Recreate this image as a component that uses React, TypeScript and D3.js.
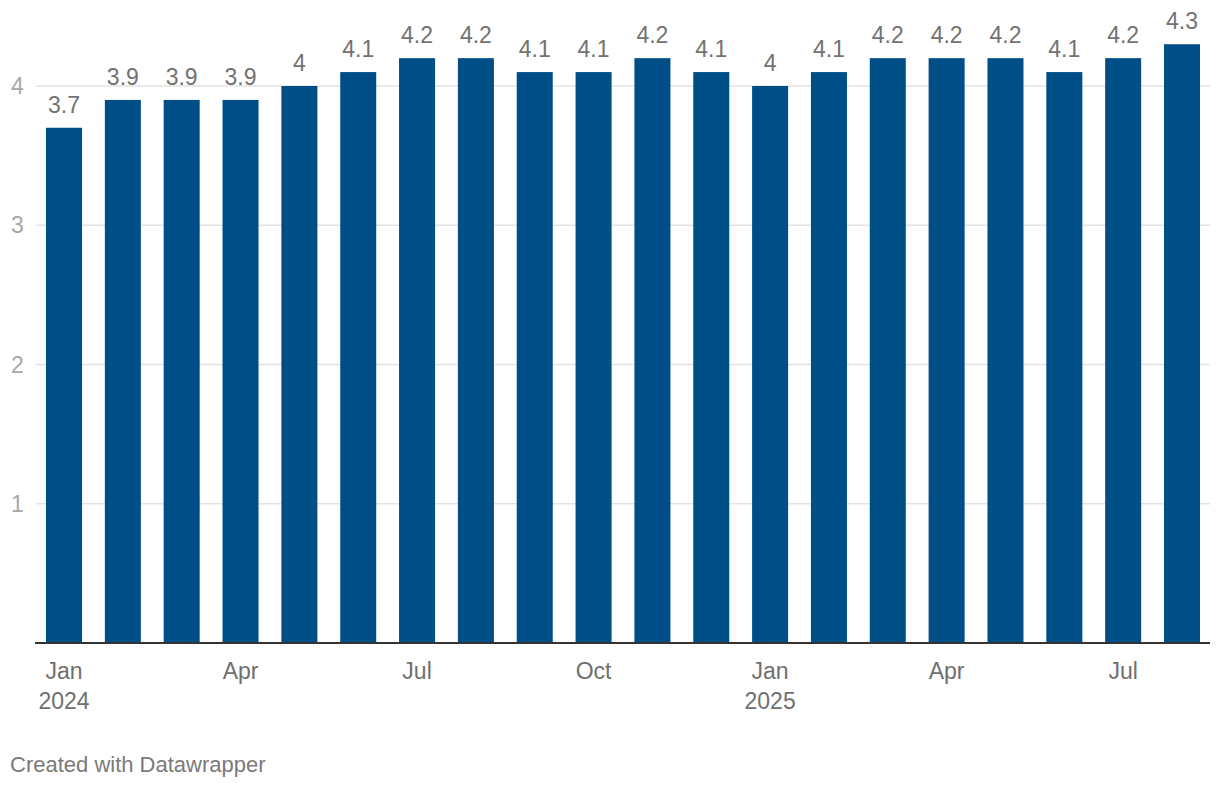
import React from "react";
import * as d3 from "d3";

const months = [
  "2024-01", "2024-02", "2024-03", "2024-04", "2024-05", "2024-06",
  "2024-07", "2024-08", "2024-09", "2024-10", "2024-11", "2024-12",
  "2025-01", "2025-02", "2025-03", "2025-04", "2025-05", "2025-06",
  "2025-07", "2025-08",
];
const values = [3.7, 3.9, 3.9, 3.9, 4, 4.1, 4.2, 4.2, 4.1, 4.1, 4.2, 4.1, 4, 4.1, 4.2, 4.2, 4.2, 4.1, 4.2, 4.3];
const yTicks = [1, 2, 3, 4];
const xTickLabels: { month: string; lines: string[] }[] = [
  { month: "2024-01", lines: ["Jan", "2024"] },
  { month: "2024-04", lines: ["Apr"] },
  { month: "2024-07", lines: ["Jul"] },
  { month: "2024-10", lines: ["Oct"] },
  { month: "2025-01", lines: ["Jan", "2025"] },
  { month: "2025-04", lines: ["Apr"] },
  { month: "2025-07", lines: ["Jul"] },
];
const footer = "Created with Datawrapper";

const W = 1220;
const H = 788;
const FONT = "'Liberation Sans', Arial, Helvetica, sans-serif";

export default function App() {
  const x = d3.scaleBand<string>().domain(months).range([46, 1200]).paddingInner(0.388).paddingOuter(0);
  const y = d3.scaleLinear().domain([0, 4]).range([643, 86]);
  const bw = x.bandwidth();
  const fmt = (v: number) => d3.format("~g")(v);

  return (
    <svg
      width={W}
      height={H}
      style={{ position: "absolute", left: 0, top: 0, background: "#fff" }}
      fontFamily={FONT}
    >
      {yTicks.map((t) => (
        <g key={t}>
          <line x1={36} x2={1210} y1={y(t)} y2={y(t)} stroke="#e3e3e3" strokeWidth={1.5} />
          <text x={11} y={y(t) + 8} fontSize={23} fill="#a8a8a8">
            {t}
          </text>
        </g>
      ))}
      {months.map((m, i) => (
        <g key={m}>
          <rect x={x(m)!} y={y(values[i])} width={bw} height={y(0) - y(values[i])} fill="#004e88" />
          <text
            x={x(m)! + bw / 2}
            y={y(values[i]) - 15}
            textAnchor="middle"
            fontSize={23}
            fill="#727272"
          >
            {fmt(values[i])}
          </text>
        </g>
      ))}
      <line x1={35} x2={1210} y1={y(0)} y2={y(0)} stroke="#333" strokeWidth={2} />
      {xTickLabels.map((t) => (
        <text key={t.month} x={x(t.month)! + bw / 2} y={679} textAnchor="middle" fontSize={23} fill="#6f6f6f">
          {t.lines.map((l, j) => (
            <tspan key={j} x={x(t.month)! + bw / 2} dy={j === 0 ? 0 : 30}>
              {l}
            </tspan>
          ))}
        </text>
      ))}
      <text x={10} y={772} fontSize={22} fill="#7a7a7a">
        {footer}
      </text>
    </svg>
  );
}
